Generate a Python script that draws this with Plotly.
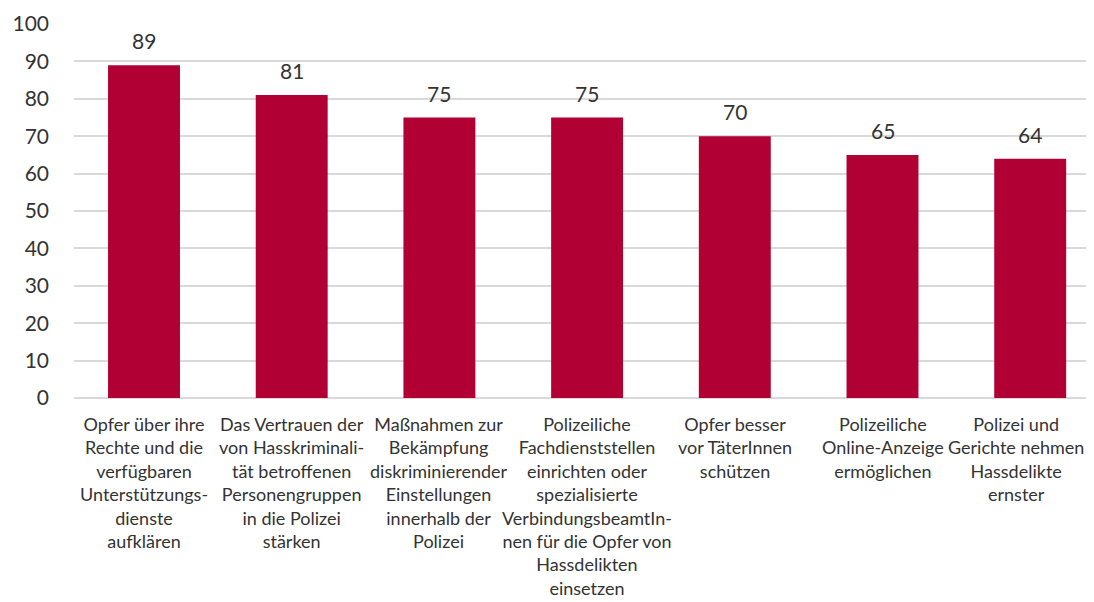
import plotly.graph_objects as go

categories = [
    "Opfer über ihre<br>Rechte und die<br>verfügbaren<br>Unterstützungs-<br>dienste<br>aufklären",
    "Das Vertrauen der<br>von Hasskriminali-<br>tät betroffenen<br>Personengruppen<br>in die Polizei<br>stärken",
    "Maßnahmen zur<br>Bekämpfung<br>diskriminierender<br>Einstellungen<br>innerhalb der<br>Polizei",
    "Polizeiliche<br>Fachdienststellen<br>einrichten oder<br>spezialisierte<br>VerbindungsbeamtIn-<br>nen für die Opfer von<br>Hassdelikten<br>einsetzen",
    "Opfer besser<br>vor TäterInnen<br>schützen",
    "Polizeiliche<br>Online-Anzeige<br>ermöglichen",
    "Polizei und<br>Gerichte nehmen<br>Hassdelikte<br>ernster",
]
values = [89, 81, 75, 75, 70, 65, 64]
y_ticks = [0, 10, 20, 30, 40, 50, 60, 70, 80, 90, 100]

FONT = "Lato"
TEXT = "#333333"
xs = list(range(len(categories)))

fig = go.Figure(
    go.Bar(
        x=xs,
        y=values,
        marker=dict(color="#B10034", line=dict(width=0)),
        width=0.487,
        hoverinfo="x+y",
    )
)

# value labels above bars
for xi, v in zip(xs, values):
    fig.add_annotation(
        x=xi, y=v, text=str(v), showarrow=False,
        xanchor="center", yanchor="bottom", yshift=10,
        font=dict(family=FONT, size=21, color=TEXT),
    )

# category labels below the axis (last one nudged left to stay inside the page)
for xi, lab in zip(xs, categories):
    fig.add_annotation(
        x=xi, y=0, text=lab, showarrow=False,
        xanchor="center", yanchor="top", yshift=-13,
        xshift=-14 if xi == xs[-1] else 0,
        align="center",
        font=dict(family=FONT, size=18, color=TEXT),
    )

# page body has an 8px default margin, so the figure is sized/offset to compensate
fig.update_layout(
    width=1086,
    height=594,
    margin=dict(l=66, r=0, t=16, b=204, autoexpand=False),
    paper_bgcolor="white",
    plot_bgcolor="white",
    showlegend=False,
    font=dict(family=FONT, color=TEXT),
    xaxis=dict(
        range=[-0.474, 6.432],
        showticklabels=False,
        showgrid=False,
        zeroline=False,
        showline=False,
        ticks="",
        automargin=False,
    ),
    yaxis=dict(
        range=[0, 100],
        tickvals=y_ticks,
        tickfont=dict(family=FONT, size=21, color=TEXT),
        showgrid=True,
        gridcolor="#D9D9D9",
        gridwidth=1.5,
        zeroline=True,
        zerolinecolor="#D9D9D9",
        zerolinewidth=1.5,
        showline=False,
        ticks="",
        ticklabelstandoff=24,
        automargin=False,
    ),
)

fig.write_html("out.html")
